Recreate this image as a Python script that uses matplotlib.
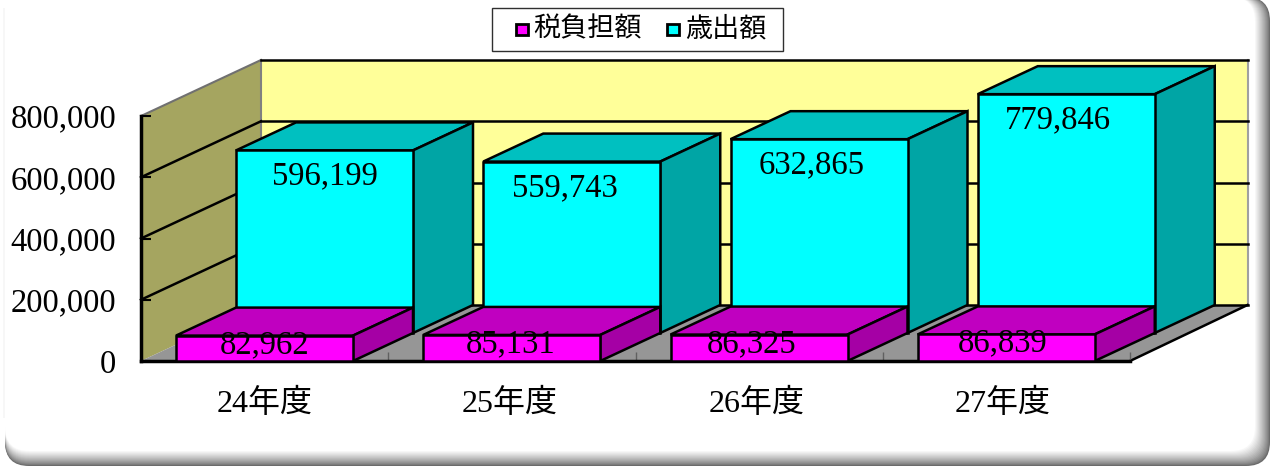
import matplotlib as mpl
mpl.use('Agg')
from matplotlib import pyplot as plt
from matplotlib.patches import Polygon, Rectangle, FancyBboxPatch
from matplotlib.transforms import ScaledTranslation

years = ['24年度', '25年度', '26年度', '27年度']
tax_label = '税負担額'
spend_label = '歳出額'
tax = [82962, 85131, 86325, 86839]
spending = [596199, 559743, 632865, 779846]
yticks = [0, 200000, 400000, 600000, 800000]

W, H = 1272, 467
my_dpi = 100
fonts = ['Liberation Serif', 'Noto Sans CJK JP']

# front plane of the chart, in pixels
left, right, top, bottom = 141, 1130, 116, 361
ymax = 800000
ncat = len(years)
cat_px = (right-left)/ncat

# one depth row, as a fraction of category width / of value range
dx = 60.0/cat_px
dy = 28.0/((bottom-top)/ymax)
bar_w = 177.0/cat_px
bar_x = 35.0/cat_px
back_end = ncat+2*dx-2.5/cat_px

fig = plt.figure(figsize=(W/my_dpi, H/my_dpi), dpi=my_dpi, facecolor='white')

# panel: grey shading grows towards the right and bottom edges
bg = fig.add_axes([0, 0, 1, 1], zorder=0)
bg.set_xlim(0, W)
bg.set_ylim(H, 0)
bg.axis('off')
steps = 16
for t in range(steps):
  g = 0.42+0.58*(t/(steps-1.0))**0.8
  bg.add_patch(FancyBboxPatch((5, -3), 1265-t, 469-t, boxstyle='round,pad=0,rounding_size=24',
                              fc=(g, g, g), ec='none'))
# the top left corner and left edge stay clean, only a faint strip shows
bg.add_patch(Rectangle((0, 0), 60, 425, fc='white', ec='none'))
bg.add_patch(Rectangle((3, 8), 2, 410, fc='#f7f7f7', ec='none'))

ax = fig.add_axes([left/W, 1-bottom/H, (right-left)/W, (bottom-top)/H], zorder=1)
ax.set_xlim(0, ncat)
ax.set_ylim(0, ymax)
ax.patch.set_visible(False)
for s in ax.spines.values():
  s.set_visible(False)


def wall(pts, color, z=1):
  ax.add_patch(Polygon(pts, closed=True, fc=color, ec='none', clip_on=False, zorder=z))


# back wall, side wall and floor
wall([(2*dx, 2*dy), (back_end, 2*dy), (back_end, ymax+2*dy), (2*dx, ymax+2*dy)], '#ffff99')
wall([(0, 0), (2*dx, 2*dy), (2*dx, ymax+2*dy), (0, ymax)], '#a5a560')
wall([(0, 0), (ncat, 0), (back_end, 2*dy), (2*dx, 2*dy)], '#969696')

# gridlines run along both walls
for v in yticks:
  ax.plot([2*dx, back_end], [v+2*dy, v+2*dy], color='black', lw=1.8, clip_on=False, zorder=1.5)
  if 0 < v < ymax:
    ax.plot([0, 2*dx], [v, v+2*dy], color='black', lw=1.8, clip_on=False, zorder=1.5)
ax.plot([2*dx, 2*dx], [2*dy, ymax+2*dy], color='#808080', lw=1.5, clip_on=False, zorder=1.4)
ax.plot([ncat, back_end], [0, 2*dy], color='black', lw=1.8, clip_on=False, zorder=1.5)
ax.plot([0, 2*dx], [ymax, ymax+2*dy], color='#707070', lw=1.5, clip_on=False, zorder=1.4)
ax.plot([back_end, back_end], [2*dy, ymax+2*dy], color='#a0a0a0', lw=1.5, clip_on=False, zorder=1.4)


def box(x0, val, d, front, side, topc):
  x1 = x0+bar_w
  z = 3-d
  topface = [(x0+d*dx, val+d*dy), (x1+d*dx, val+d*dy), (x1+(d+1)*dx, val+(d+1)*dy), (x0+(d+1)*dx, val+(d+1)*dy)]
  sideface = [(x1+d*dx, d*dy), (x1+(d+1)*dx, (d+1)*dy), (x1+(d+1)*dx, val+(d+1)*dy), (x1+d*dx, val+d*dy)]
  for pts, c in [(topface, topc), (sideface, side)]:
    ax.add_patch(Polygon(pts, closed=True, fc=c, ec='black', lw=1.8, clip_on=False, zorder=z))
  ax.add_patch(Rectangle((x0+d*dx, d*dy), bar_w, val, fc=front, ec='black', lw=1.8, clip_on=False, zorder=z))


# back row first so the front row sits over it
for i in range(ncat):
  box(i+bar_x, spending[i], 1, '#00ffff', '#00a5a5', '#00c0c0')
for i in range(ncat):
  box(i+bar_x, tax[i], 0, '#ff00ff', '#a500a5', '#c000c0')

# value labels
spend_shift = [0, -6.5, -7.5, -8.5]
tax_shift = [0, -1.5, -7, -4]
for i in range(ncat):
  ax.annotate(format(spending[i], ','), (i+bar_x+dx+bar_w/2, spending[i]+dy), xycoords='data',
              xytext=(spend_shift[i]*0.72, -26*0.72), textcoords='offset points', ha='center', va='center',
              fontsize=23.5, family=fonts, color='black', zorder=6, annotation_clip=False)
  ax.annotate(format(tax[i], ','), (i+bar_x+bar_w/2, tax[i]), xycoords='data',
              xytext=(tax_shift[i]*0.72, -9*0.72), textcoords='offset points', ha='center', va='center',
              fontsize=23.5, family=fonts, color='black', zorder=6, annotation_clip=False)

# axes: ticks point inward over the walls
ax.set_yticks(yticks)
ax.set_yticklabels([format(v, ',') for v in yticks], fontsize=23.5, family=fonts)
ax.tick_params(axis='y', direction='in', length=7, width=1.5, pad=18, zorder=1.6)
ax.set_xticks(range(ncat+1))
ax.set_xticklabels([''] * (ncat+1))
ax.tick_params(axis='x', direction='in', length=6.5, width=1, color='#606060', zorder=1.6)
ax.set_xticks([i+0.5 for i in range(ncat)], minor=True)
ax.set_xticklabels(years, minor=True, fontsize=23, family=fonts)
ax.tick_params(axis='x', which='minor', length=0, pad=20)
label_shift = [0, -2, -3, -4]
for lab, sh in zip(ax.get_xticklabels(minor=True), label_shift):
  lab.set_transform(lab.get_transform()+ScaledTranslation(sh/my_dpi, 0, fig.dpi_scale_trans))

# heavy front edges of the chart
ax.plot([0, 0], [0, ymax], color='black', lw=2.5, clip_on=False, zorder=1.7)
ax.plot([0, ncat], [0, 0], color='black', lw=2.5, clip_on=False, zorder=1.7)

# legend built by hand in the same pixel frame as the panel
bg.add_patch(Rectangle((491.5, 7.5), 291, 43, fc='white', ec='#303030', lw=1))
bg.add_patch(Rectangle((516, 24), 12, 11, fc='#ff00ff', ec='black', lw=2))
bg.text(533, 30, tax_label, fontsize=19.5, family=fonts, va='center', ha='left')
bg.add_patch(Rectangle((667, 24), 12, 11, fc='#00ffff', ec='black', lw=2))
bg.text(685, 30, spend_label, fontsize=19.5, family=fonts, va='center', ha='left')

plt.savefig('out.png', dpi=my_dpi)
